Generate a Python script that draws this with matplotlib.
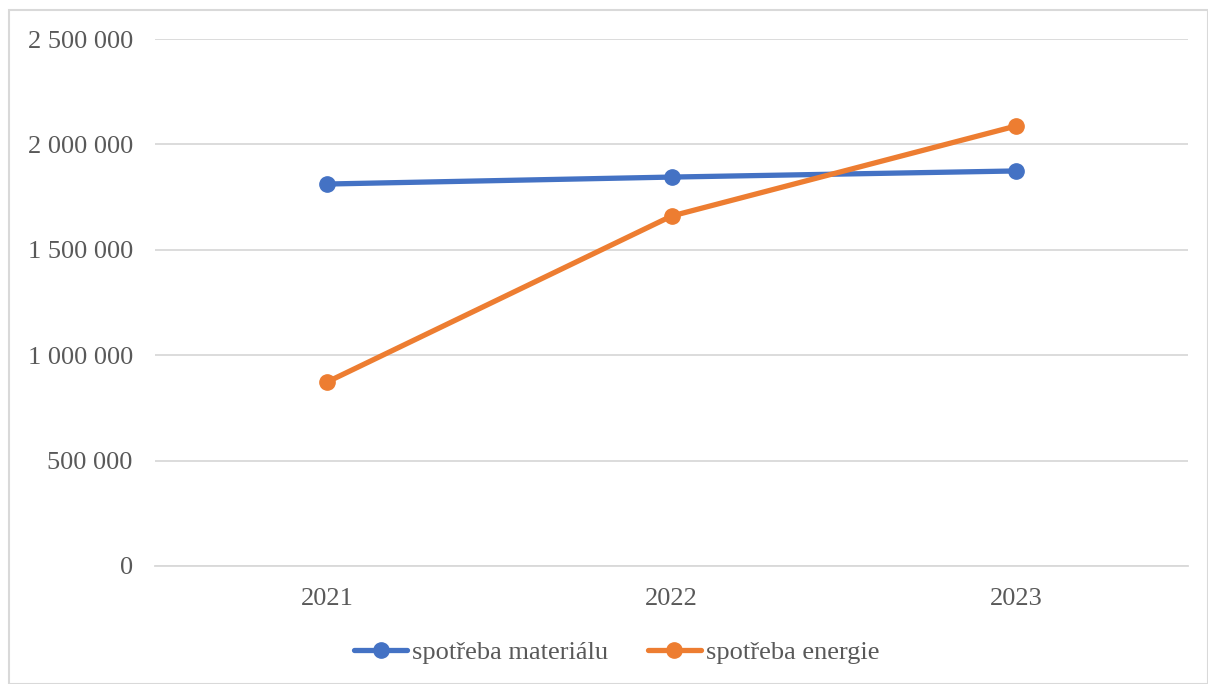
import matplotlib
matplotlib.use("Agg")
import matplotlib.pyplot as plt
from matplotlib.patches import Rectangle
from matplotlib.ticker import FuncFormatter

# data
roky = ["2021", "2022", "2023"]
spotreba_materialu = [1812000, 1845000, 1874000]
spotreba_energie = [873000, 1660000, 2087000]

plt.rcParams['font.family'] = ['Liberation Serif', 'DejaVu Serif']

fig = plt.figure(figsize=(12.08, 6.84), dpi=100)
ax = fig.add_axes([155 / 1208, 1 - 566 / 684, (1188 - 155) / 1208, (566 - 39) / 684])

x = range(len(roky))
ax.plot(x, spotreba_materialu, color="#4472C4", lw=3.8, marker="o", ms=11,
        solid_capstyle="round", label="spotřeba materiálu", zorder=3)
ax.plot(x, spotreba_energie, color="#ED7D31", lw=3.8, marker="o", ms=11,
        solid_capstyle="round", label="spotřeba energie", zorder=3)

ax.set_xlim(-0.5, 2.5)
ax.set_ylim(0, 2500000)
ax.set_yticks(range(0, 2500001, 500000))
ax.yaxis.set_major_formatter(FuncFormatter(lambda v, p: f"{int(v):,}".replace(",", " ")))
ax.set_xticks(list(x))
ax.set_xticklabels(roky)

ax.grid(axis="y", color="#D9D9D9", lw=1.3)
ax.set_axisbelow(True)
for s in ["top", "right", "left"]:
    ax.spines[s].set_visible(False)
ax.spines["bottom"].set_color("#D9D9D9")
ax.spines["bottom"].set_linewidth(1.3)
ax.tick_params(length=0, labelsize=19, colors="#595959")
ax.tick_params(axis="y", pad=16)
ax.tick_params(axis="x", pad=16)

leg = ax.legend(loc="center", bbox_to_anchor=(617 / 1208, 1 - 652 / 684), bbox_transform=fig.transFigure,
                ncol=2, frameon=False, fontsize=19, handlelength=2.0, handletextpad=0.2,
                columnspacing=1.5)
for t in leg.get_texts():
    t.set_color("#595959")

# frame around the chart
fig.patches.append(Rectangle((9 / 1208, 0), 1 - 9 / 1208 - 0.5 / 1208, 1 - 10 / 684, transform=fig.transFigure,
                             fill=False, edgecolor="#D9D9D9", lw=1.5))

fig.savefig("out.png", dpi=100)
